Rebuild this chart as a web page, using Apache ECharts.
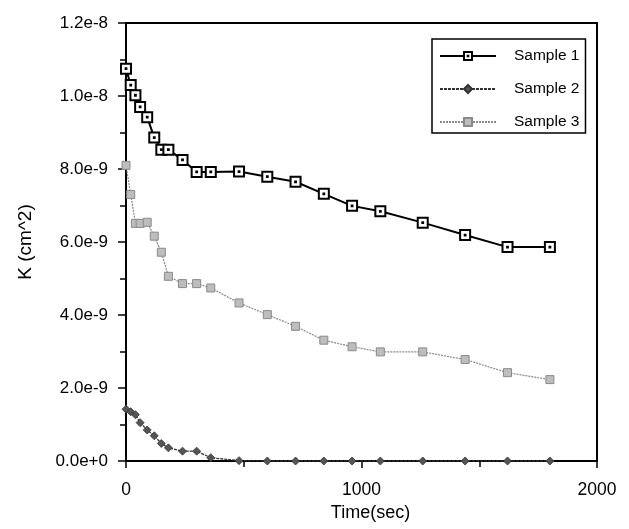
<!DOCTYPE html>
<html>
<head>
<meta charset="utf-8">
<script src="https://cdn.jsdelivr.net/npm/echarts@6/dist/echarts.min.js"></script>
<style>html,body{margin:0;padding:0;background:#fff}#chart{width:629px;height:529px}</style>
</head>
<body>
<div id="chart"></div>
<script>
var times = [0, 20, 40, 60, 90, 120, 150, 180, 240, 300, 360, 480, 600, 720, 840, 960, 1080, 1260, 1440, 1620, 1800];
var sample1 = [10.75e-9, 10.3e-9, 10.02e-9, 9.70e-9, 9.42e-9, 8.86e-9, 8.53e-9, 8.53e-9, 8.25e-9, 7.92e-9, 7.92e-9, 7.93e-9, 7.79e-9, 7.65e-9, 7.32e-9, 6.99e-9, 6.84e-9, 6.53e-9, 6.19e-9, 5.86e-9, 5.86e-9];
var sample2 = [1.42e-9, 1.35e-9, 1.27e-9, 1.05e-9, 0.85e-9, 0.69e-9, 0.48e-9, 0.36e-9, 0.27e-9, 0.27e-9, 0.09e-9, 0.01e-9, 0, 0, 0, 0, 0, 0, 0, 0, 0];
var sample3 = [8.10e-9, 7.30e-9, 6.51e-9, 6.51e-9, 6.54e-9, 6.16e-9, 5.72e-9, 5.06e-9, 4.86e-9, 4.86e-9, 4.74e-9, 4.33e-9, 4.01e-9, 3.69e-9, 3.31e-9, 3.13e-9, 2.99e-9, 2.99e-9, 2.78e-9, 2.42e-9, 2.23e-9];
var seriesNames = ['Sample 1', 'Sample 2', 'Sample 3'];
var yTickLabels = ['0.0e+0', '2.0e-9', '4.0e-9', '6.0e-9', '8.0e-9', '1.0e-8', '1.2e-8'];
var xTickLabels = ['0', '1000', '2000'];

function pairs(xs, ys) { return xs.map(function (x, i) { return [x, ys[i]]; }); }

var font = 'Liberation Sans, Arial, Helvetica, sans-serif';
var chart = echarts.init(document.getElementById('chart'), null, {renderer: 'canvas'});
chart.setOption({
  animation: false,
  backgroundColor: '#fff',
  grid: {left: 126, right: 32, top: 23, bottom: 68, show: true, borderColor: '#000', borderWidth: 2, backgroundColor: 'transparent'},
  legend: {
    orient: 'vertical', left: 432, top: 39, width: 152,
    padding: [9, 6, 3, 7],
    borderColor: '#000', borderWidth: 1.5,
    itemWidth: 56, itemHeight: 10, itemGap: 17,
    textStyle: {fontFamily: font, fontSize: 15.5, color: '#000', padding: [0, 0, 0, 13]},
    data: seriesNames
  },
  xAxis: {
    type: 'value', min: 0, max: 2000, interval: 1000,
    name: 'Time(sec)', nameLocation: 'middle', nameGap: 42,
    nameTextStyle: {fontFamily: font, fontSize: 18, color: '#000', padding: [0, 0, 0, 18]},
    axisLine: {onZero: false, lineStyle: {color: '#000', width: 2}},
    axisTick: {show: true, inside: false, length: 7, lineStyle: {color: '#000', width: 1.5}},
    minorTick: {show: true, splitNumber: 2, length: 6, lineStyle: {color: '#000', width: 1.5}},
    axisLabel: {margin: 20, fontFamily: font, fontSize: 17.5, color: '#000',
      formatter: function (v) { var i = Math.round(v / 1000); return xTickLabels[i] !== undefined ? xTickLabels[i] : ''; }},
    splitLine: {show: false}
  },
  yAxis: {
    type: 'value', min: 0, max: 1.2e-8, interval: 2e-9,
    name: 'K (cm^2)', nameLocation: 'middle', nameGap: 91,
    nameTextStyle: {fontFamily: font, fontSize: 19, color: '#000'},
    axisLine: {onZero: false, lineStyle: {color: '#000', width: 2}},
    axisTick: {show: true, inside: false, length: 8, lineStyle: {color: '#000', width: 1.5}},
    minorTick: {show: true, splitNumber: 2, length: 6, lineStyle: {color: '#000', width: 1.5}},
    axisLabel: {margin: 18, fontFamily: font, fontSize: 17, color: '#000',
      formatter: function (v) { var i = Math.round(v / 2e-9); return yTickLabels[i] !== undefined ? yTickLabels[i] : ''; }},
    splitLine: {show: false}
  },
  series: [
    {
      name: seriesNames[0], type: 'line', data: pairs(times, sample1),
      symbol: 'path://M0 0H10V10H0Z M4.6 4.6H5.4V5.4H4.6Z', symbolSize: 10,
      itemStyle: {color: '#fff', borderColor: '#000', borderWidth: 2},
      lineStyle: {color: '#000', width: 2}, z: 5
    },
    {
      name: seriesNames[1], type: 'line', data: pairs(times, sample2),
      symbol: 'diamond', symbolSize: 8,
      itemStyle: {color: '#555', borderColor: '#333', borderWidth: 0.8},
      lineStyle: {color: '#333', width: 1.3, type: [3, 1]}, z: 3
    },
    {
      name: seriesNames[2], type: 'line', data: pairs(times, sample3),
      symbol: 'rect', symbolSize: 8,
      itemStyle: {color: '#bdbdbd', borderColor: '#8a8a8a', borderWidth: 1},
      lineStyle: {color: '#8a8a8a', width: 1.2, type: [2, 1]}, z: 4
    }
  ]
});
</script>
</body>
</html>
